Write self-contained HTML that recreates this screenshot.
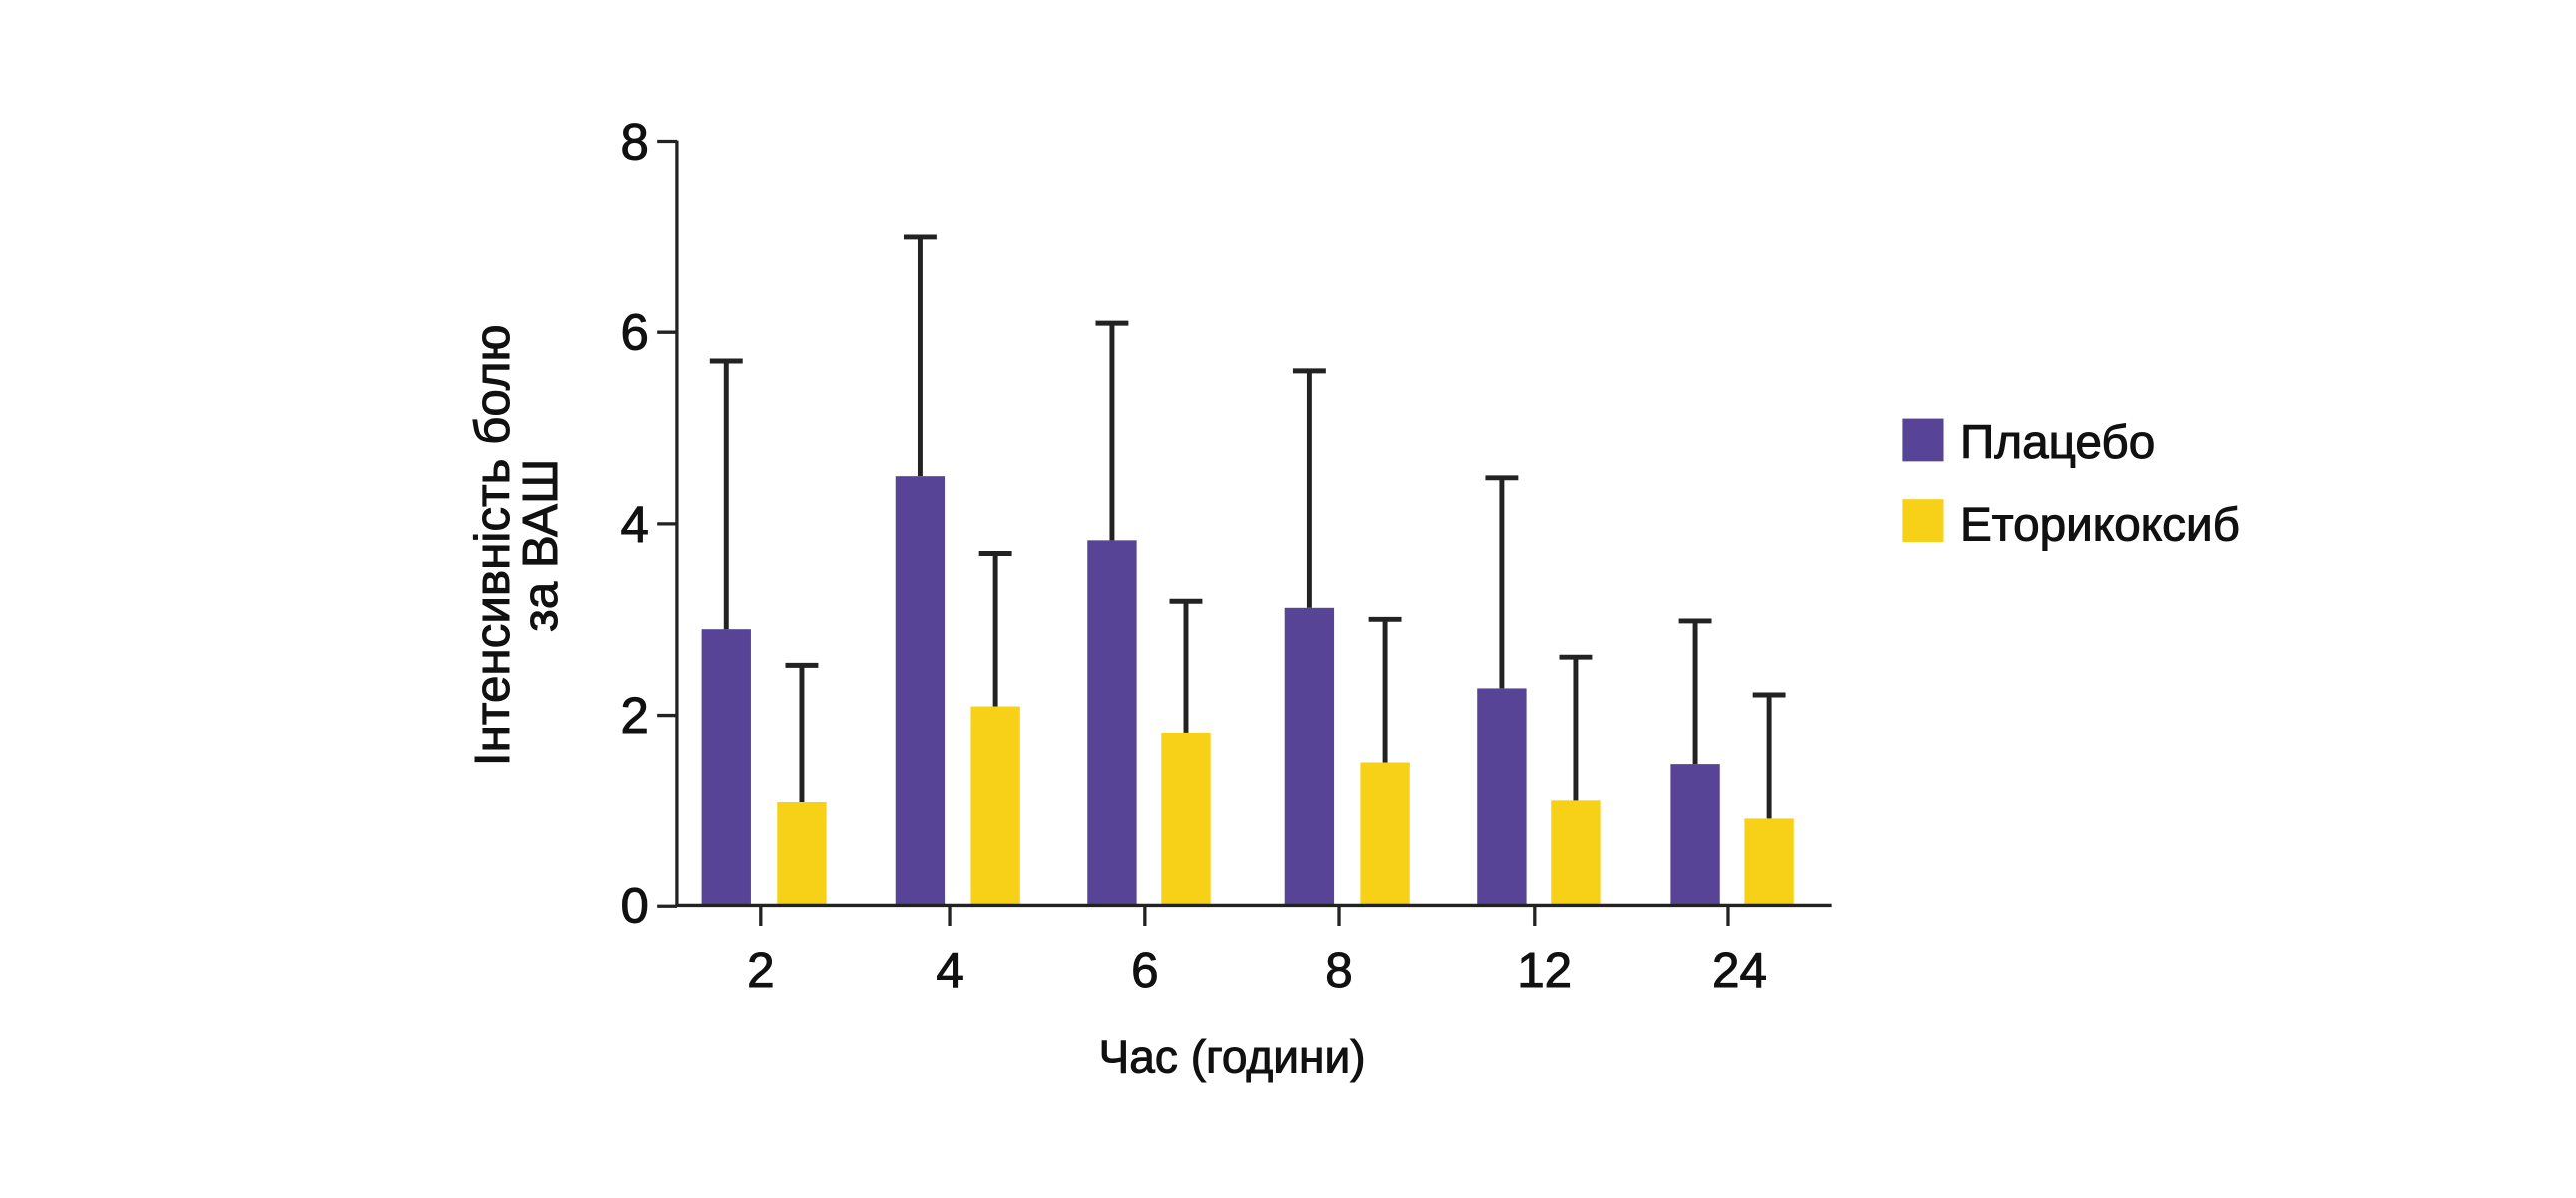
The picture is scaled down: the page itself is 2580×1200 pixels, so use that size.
<!DOCTYPE html>
<html><head><meta charset="utf-8"><style>
html,body{margin:0;padding:0;background:#fff;}
svg{display:block;}
text{font-family:"Liberation Sans","DejaVu Sans",sans-serif;fill:#111;stroke:#111;stroke-width:0.6;}
</style></head><body>
<svg width="2580" height="1200" viewBox="0 0 1568 729.3" xmlns="http://www.w3.org/2000/svg">
<rect width="1568" height="730" fill="#fff"/>
<g fill="#574497">
<rect x="427" y="383" width="30" height="168"/>
<rect x="545" y="290" width="30" height="261"/>
<rect x="662" y="329" width="30" height="222"/>
<rect x="782" y="370" width="30" height="181"/>
<rect x="899" y="419" width="30" height="132"/>
<rect x="1017" y="465" width="30" height="86"/>
</g>
<g fill="#F7D117">
<rect x="473" y="488" width="30" height="63"/>
<rect x="591" y="430" width="30" height="121"/>
<rect x="707" y="446" width="30" height="105"/>
<rect x="828" y="464" width="30" height="87"/>
<rect x="944" y="487" width="30" height="64"/>
<rect x="1062" y="498" width="30" height="53"/>
</g>
<g stroke="#222" stroke-width="3" fill="none">
<path d="M442 383V220M432 220H452"/>
<path d="M488 488V405M478 405H498"/>
<path d="M560 290V144M550 144H570"/>
<path d="M606 430V337M596 337H616"/>
<path d="M677 329V197M667 197H687"/>
<path d="M722 446V366M712 366H732"/>
<path d="M797 370V226M787 226H807"/>
<path d="M843 464V377M833 377H853"/>
<path d="M914 419V291M904 291H924"/>
<path d="M959 487V400M949 400H969"/>
<path d="M1032 465V378M1022 378H1042"/>
<path d="M1077 498V423M1067 423H1087"/>
</g>
<g stroke="#222" stroke-width="2" fill="none">
<path d="M412 85.5V551.5H1115"/>
<path d="M400 86H412M400 202.5H412M400 319H412M400 435.5H412M400 552H412"/>
<path d="M463 551V564M578 551V564M697 551V564M815 551V564M934 551V564M1052 551V564"/>
</g>
<g font-size="31" text-anchor="end">
<text x="395" y="97">8</text>
<text x="395" y="213">6</text>
<text x="395" y="330">4</text>
<text x="395" y="446">2</text>
<text x="395" y="562">0</text>
</g>
<g font-size="30" text-anchor="middle">
<text x="463" y="601">2</text>
<text x="578" y="601">4</text>
<text x="697" y="601">6</text>
<text x="815" y="601">8</text>
<text x="940" y="601">12</text>
<text x="1059" y="601">24</text>
</g>
<text x="750" y="653" font-size="28" text-anchor="middle">Час (години)</text>
<g font-size="30" text-anchor="middle">
<text transform="translate(310,332) rotate(-90)">Інтенсивність болю</text>
<text transform="translate(339,332) rotate(-90)">за ВАШ</text>
</g>
<rect x="1158" y="255" width="25" height="26" fill="#574497"/>
<rect x="1158" y="304" width="25" height="26" fill="#F7D117"/>
<text x="1193" y="279" font-size="29">Плацебо</text>
<text x="1193" y="329" font-size="29">Еторикоксиб</text>
</svg>
</body></html>
